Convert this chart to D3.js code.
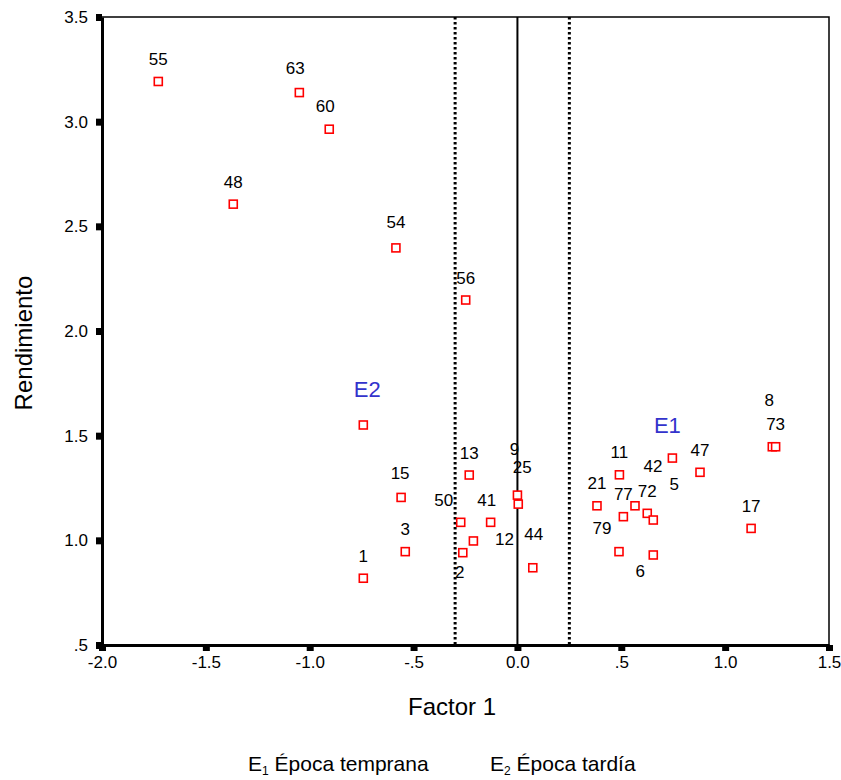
<!DOCTYPE html>
<html>
<head>
<meta charset="utf-8">
<script src="https://cdn.jsdelivr.net/npm/d3@7"></script>
<style>
  body { margin: 0; background: #fff; }
  svg text { font-family: "Liberation Sans", Arial, sans-serif; }
</style>
</head>
<body>
<div id="chart"></div>
<script>
// point ids, Factor 1 scores and yield
const ids = ["55", "63", "60", "48", "54", "56", "E2", "15", "3", "1", "13", "50", "41", "12", "2",
    "9", "25", "44", "11", "21", "77", "42", "72", "5", "E1", "47", "8", "73", "17", "79", "6"];
const factor1 = [-1.729, -1.050, -0.906, -1.368, -0.585, -0.249, -0.742, -0.560, -0.540, -0.742,
    -0.232, -0.273, -0.129, -0.212, -0.263, 0.000, 0.004, 0.074, 0.491, 0.383, 0.510, 0.566,
    0.625, 0.654, 0.746, 0.879, 1.227, 1.243, 1.125, 0.489, 0.654];
const rendimiento = [3.192, 3.139, 2.964, 2.606, 2.397, 2.148, 1.551, 1.205, 0.946, 0.819,
    1.312, 1.086, 1.086, 0.997, 0.941, 1.216, 1.173, 0.869, 1.313, 1.165, 1.113, 1.165,
    1.129, 1.097, 1.393, 1.325, 1.447, 1.447, 1.057, 0.946, 0.930];
const environments = ["E1", "E2"];

const xTicks = [-2.0, -1.5, -1.0, -0.5, 0.0, 0.5, 1.0, 1.5];
const xTickLabels = ["-2.0", "-1.5", "-1.0", "-.5", "0.0", ".5", "1.0", "1.5"];
const yTicks = [0.5, 1.0, 1.5, 2.0, 2.5, 3.0, 3.5];
const yTickLabels = [".5", "1.0", "1.5", "2.0", "2.5", "3.0", "3.5"];

// reference lines on Factor 1
const solidLines = [0];
const dottedLines = [-0.3, 0.25];

// label placement (pixels from the marker), default is straight above
const labelShift = {
    "42": [18, -39], "5": [21, -36], "6": [-13, 17], "79": [-17, -23], "50": [-17, -22],
    "41": [-4, -22], "12": [31, -1], "2": [-3, 20], "9": [-3, -46], "25": [4, -37],
    "44": [1, -33], "8": [-3, -46], "E1": [-5, -33], "E2": [4, -35], "60": [-4, -23],
    "63": [-4, -24], "54": [0, -25], "15": [-1, -24]
};

const data = ids.map(function(id, i) {
    return {id: id, x: factor1[i], y: rendimiento[i]};
});

const width = 841, height = 780;
const margin = {top: 17, right: 12, bottom: 135, left: 102};

const svg = d3.select("#chart")
    .append("svg")
    .attr("width", width)
    .attr("height", height);

const x = d3.scaleLinear()
    .domain([-2, 1.5])
    .range([margin.left, width - margin.right]);
const y = d3.scaleLinear()
    .domain([0.5, 3.5])
    .range([height - margin.bottom, margin.top]);

// frame: top and right
svg.append("path")
    .attr("d", "M" + x(-2) + "," + y(3.5) + "H" + x(1.5) + "V" + y(0.5))
    .attr("fill", "none")
    .attr("stroke", "#000")
    .attr("stroke-width", 1.5);

// axes
const xAxis = svg.append("g")
    .attr("transform", "translate(0," + y(0.5) + ")")
    .call(d3.axisBottom(x).tickValues(xTicks)
        .tickFormat(function(d, i) { return xTickLabels[i]; })
        .tickSizeInner(6).tickSizeOuter(0).tickPadding(5));
xAxis.select(".domain").attr("stroke-width", 3);
xAxis.selectAll(".tick line").attr("stroke-width", 7);
xAxis.selectAll(".tick text")
    .attr("font-size", 17)
    .attr("fill", "#000")
    .style("font-family", "Liberation Sans, Arial, sans-serif");

const yAxis = svg.append("g")
    .attr("transform", "translate(" + x(-2) + ",0)")
    .call(d3.axisLeft(y).tickValues(yTicks)
        .tickFormat(function(d, i) { return yTickLabels[i]; })
        .tickSizeInner(6).tickSizeOuter(0).tickPadding(8));
yAxis.select(".domain").attr("stroke-width", 3);
yAxis.selectAll(".tick line").attr("stroke-width", 7);
yAxis.selectAll(".tick text")
    .attr("font-size", 17)
    .attr("fill", "#000")
    .style("font-family", "Liberation Sans, Arial, sans-serif");

// vertical reference lines
svg.selectAll(".solidline")
    .data(solidLines)
    .enter()
    .append("line")
    .attr("x1", function(d) { return x(d); })
    .attr("x2", function(d) { return x(d); })
    .attr("y1", y(3.5))
    .attr("y2", y(0.5))
    .attr("stroke", "#000")
    .attr("stroke-width", 2);

svg.selectAll(".dotline")
    .data(dottedLines)
    .enter()
    .append("line")
    .attr("x1", function(d) { return x(d); })
    .attr("x2", function(d) { return x(d); })
    .attr("y1", y(3.5))
    .attr("y2", y(0.5))
    .attr("stroke", "#000")
    .attr("stroke-width", 3)
    .attr("stroke-dasharray", "2.5,2.5");

// markers
const s = 8;
svg.selectAll(".pt")
    .data(data)
    .enter()
    .append("rect")
    .attr("x", function(d) { return x(d.x) - s / 2; })
    .attr("y", function(d) { return y(d.y) - s / 2; })
    .attr("width", s)
    .attr("height", s)
    .attr("fill", "#fff")
    .attr("stroke", "#ff0000")
    .attr("stroke-width", 1.6);

// labels
svg.selectAll(".lbl")
    .data(data)
    .enter()
    .append("text")
    .attr("x", function(d) { return x(d.x) + (labelShift[d.id] || [0, -22])[0]; })
    .attr("y", function(d) { return y(d.y) + (labelShift[d.id] || [0, -22])[1]; })
    .attr("text-anchor", "middle")
    .attr("dominant-baseline", "central")
    .attr("font-size", function(d) { return environments.includes(d.id) ? 22 : 17; })
    .attr("fill", function(d) { return environments.includes(d.id) ? "#3333cc" : "#000"; })
    .text(function(d) { return d.id; });

// axis titles
svg.append("text")
    .attr("x", 452)
    .attr("y", 715)
    .attr("text-anchor", "middle")
    .attr("font-size", 24)
    .text("Factor 1");

svg.append("text")
    .attr("transform", "translate(32,343) rotate(-90)")
    .attr("text-anchor", "middle")
    .attr("font-size", 24)
    .text("Rendimiento");

// legend note
const legendItems = [
    {sub: "1", name: "Época temprana", x: 248},
    {sub: "2", name: "Época tardía", x: 490}
];
legendItems.forEach(function(item) {
    const t = svg.append("text")
        .attr("x", item.x)
        .attr("y", 771)
        .attr("font-size", 21);
    t.append("tspan").text("E");
    t.append("tspan").attr("font-size", 12).attr("dy", 4).text(item.sub);
    t.append("tspan").attr("dy", -4).text(" " + item.name);
});
</script>
</body>
</html>
